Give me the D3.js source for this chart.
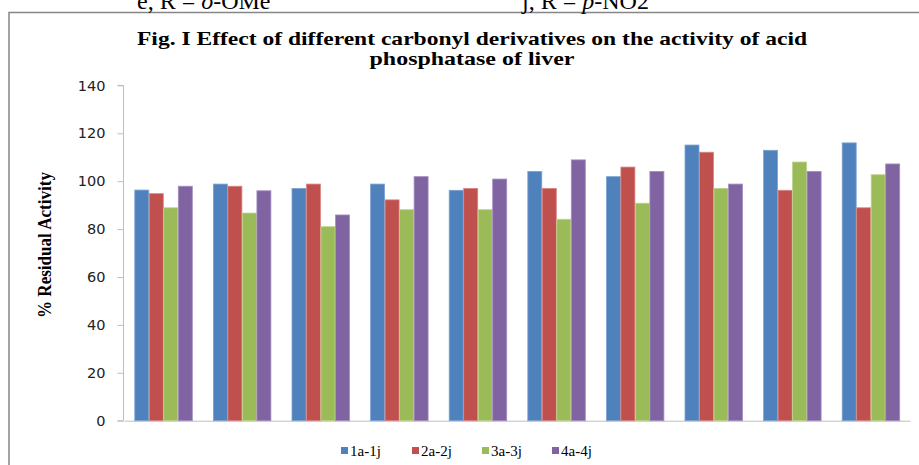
<!DOCTYPE html>
<html><head><meta charset="utf-8">
<script src="https://cdn.jsdelivr.net/npm/d3@7/dist/d3.min.js"></script>
<style>html,body{margin:0;padding:0;background:#fff;overflow:hidden}</style>
</head><body>
<svg id="chart" width="919" height="465"></svg>
<script>
const categories = ["a","b","c","d","e","f","g","h","i","j"];
const seriesNames = ["1a-1j","2a-2j","3a-3j","4a-4j"];
const s1 = [96.3, 98.8, 97.0, 98.8, 96.2, 104.1, 101.9, 115.1, 112.9, 116.0];
const s2 = [94.8, 97.9, 98.8, 92.2, 97.0, 97.0, 105.9, 112.1, 96.2, 88.9];
const s3 = [88.9, 86.7, 81.0, 88.1, 88.1, 84.1, 90.8, 97.0, 108.0, 102.7];
const s4 = [97.9, 96.0, 85.9, 101.9, 100.9, 108.9, 104.1, 98.8, 104.1, 107.2];
const yTicks = [0, 20, 40, 60, 80, 100, 120, 140];
const titleLines = ["Fig. I Effect of different carbonyl derivatives on the activity of acid", "phosphatase of liver"];
const colors = ["#4F81BD","#C0504D","#9BBB59","#8064A2"];
const strokes = ["#7EA3D1","#D88583","#BCD38A","#A48EC0"];

const series = [s1, s2, s3, s4];
const svg = d3.select("#chart");

// outer chart border
svg.append("rect").attr("x", 9).attr("y", 12.5).attr("width", 1000).attr("height", 1000)
  .attr("fill", "none").attr("stroke", "#868686").attr("stroke-width", 1.5);

// caption text from the page above (partly outside the picture, as in the source)
const cap = svg.append("g").attr("font-family", "'Liberation Serif','Times New Roman',serif").attr("font-size", 24).attr("fill", "#000");
const t1 = cap.append("text").attr("x", 137).attr("y", 9);
t1.append("tspan").text("e, R = ");
t1.append("tspan").attr("font-style", "italic").text("o");
t1.append("tspan").text("-OMe");
const t2 = cap.append("text").attr("x", 522).attr("y", 9);
t2.append("tspan").text("j, R = ");
t2.append("tspan").attr("font-style", "italic").text("p");
t2.append("tspan").text("-NO2");

// title
const title = svg.append("g").attr("font-family", "'Liberation Serif','Times New Roman',serif")
  .attr("font-weight", "bold").attr("font-size", 19).attr("text-anchor", "middle");
title.append("text").attr("x", 472).attr("y", 45).attr("textLength", 670).attr("lengthAdjust", "spacingAndGlyphs").text(titleLines[0]);
title.append("text").attr("x", 472).attr("y", 65).attr("textLength", 205).attr("lengthAdjust", "spacingAndGlyphs").text(titleLines[1]);

const x0 = d3.scaleBand().domain(categories).range([124, 910]).paddingInner(0.262).paddingOuter(0.131);
const x1 = d3.scaleBand().domain(seriesNames).range([0, x0.bandwidth()]);
const y = d3.scaleLinear().domain([0, 140]).range([420.7, 85.4]);

// y axis
const yAxis = d3.axisLeft(y).tickValues(yTicks).tickSize(6).tickPadding(12);
const yg = svg.append("g").attr("transform", "translate(123.5,0)").call(yAxis);
yg.select(".domain").attr("stroke", "#BFBFBF").attr("d", `M-6,${y(140)}H0V${y(0)}H-6`);
yg.selectAll(".tick line").attr("stroke", "#BFBFBF");
yg.selectAll(".tick text").attr("font-family", "'DejaVu Sans',sans-serif").attr("font-size", 14.5).attr("fill", "#222");

// x axis
const xAxis = d3.axisBottom(x0).tickSize(0).tickFormat("");
const xg = svg.append("g").attr("transform", `translate(0,${y(0)})`).call(xAxis);
xg.select(".domain").attr("stroke", "#BFBFBF");

// bars
const groups = svg.append("g").selectAll("g").data(categories).join("g")
  .attr("transform", d => `translate(${x0(d)},0)`);
groups.selectAll("rect").data((d, i) => series.map((s, k) => ({k, v: s[i]}))).join("rect")
  .attr("x", d => x1(seriesNames[d.k]) + 0.5)
  .attr("y", d => y(d.v))
  .attr("width", x1.bandwidth() - 0.5)
  .attr("height", d => y(0) - y(d.v))
  .attr("fill", d => colors[d.k])
  .attr("stroke", d => strokes[d.k]).attr("stroke-width", 0.8);

// y label
svg.append("text").attr("transform", "translate(51,245) rotate(-90)")
  .attr("text-anchor", "middle").attr("font-family", "'Liberation Serif','Times New Roman',serif")
  .attr("font-weight", "bold").attr("font-size", 18).attr("textLength", 146).attr("lengthAdjust", "spacingAndGlyphs")
  .text("% Residual Activity");

// legend
const legendX = [341, 412, 482, 552];
const lg = svg.append("g").selectAll("g").data(seriesNames).join("g")
  .attr("transform", (d, i) => `translate(${legendX[i]},447)`);
lg.append("rect").attr("width", 7).attr("height", 7).attr("fill", (d, i) => colors[i]);
lg.append("text").attr("x", 9).attr("y", 8.5).attr("font-family", "'Liberation Serif','Times New Roman',serif")
  .attr("font-size", 15).text(d => d);
</script>
</body></html>
